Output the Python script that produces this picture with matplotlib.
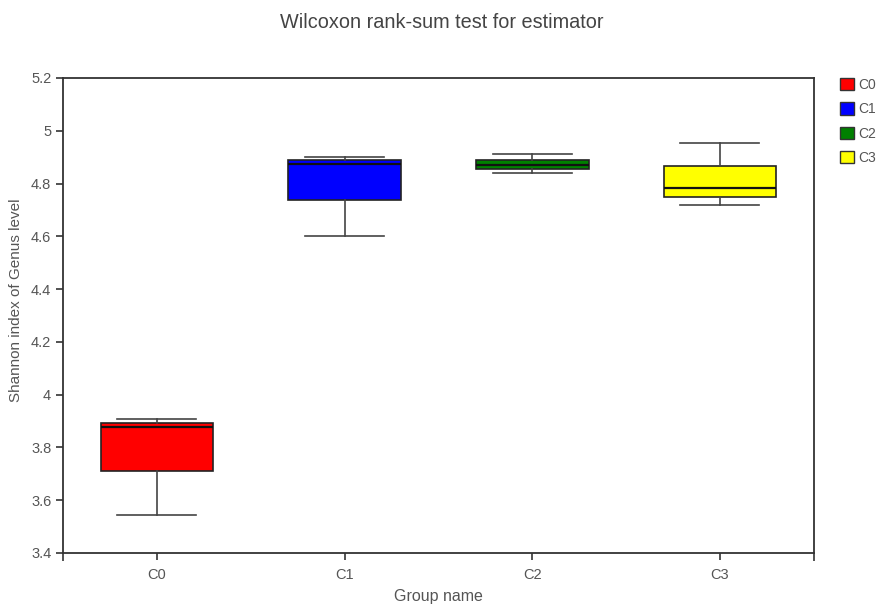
import matplotlib
matplotlib.use('Agg')
import matplotlib.pyplot as plt
from matplotlib.patches import Patch
from matplotlib.ticker import FormatStrFormatter

plt.rcParams['font.family'] = ['Liberation Sans', 'DejaVu Sans']

groups = ["C0", "C1", "C2", "C3"]
colors = ["#ff0000", "#0000ff", "#008000", "#ffff00"]
whislo = [3.544, 4.602, 4.839, 4.718]
q1 = [3.712, 4.738, 4.854, 4.749]
med = [3.878, 4.873, 4.871, 4.782]
q3 = [3.894, 4.889, 4.890, 4.868]
whishi = [3.909, 4.900, 4.911, 4.955]

txt = "#555555"
axc = "#333333"

fig = plt.figure(figsize=(8.78, 6.07), dpi=100)
ax = fig.add_axes([0.0718, 0.089, 0.855, 0.7825])

stats = []
for i, g in enumerate(groups):
    stats.append(dict(label=g, whislo=whislo[i], q1=q1[i], med=med[i],
                      q3=q3[i], whishi=whishi[i], fliers=[]))

bp = ax.bxp(stats, positions=range(len(groups)), widths=0.6, patch_artist=True,
            showfliers=False, capwidths=0.42,
            boxprops=dict(edgecolor="#222222", linewidth=1.2),
            medianprops=dict(color="#111111", linewidth=1.6),
            whiskerprops=dict(color="#444444", linewidth=1.2),
            capprops=dict(color="#444444", linewidth=1.2))
for b, c in zip(bp['boxes'], colors):
    b.set_facecolor(c)

ax.set_xlim(-0.5, 3.5)
ax.set_ylim(3.4, 5.2)
ax.set_yticks([3.4, 3.6, 3.8, 4.0, 4.2, 4.4, 4.6, 4.8, 5.0, 5.2])
ax.yaxis.set_major_formatter(FormatStrFormatter('%g'))
ax.set_xticks(range(len(groups)))
ax.set_xticklabels(groups)
ax.set_xticks([-0.5, 3.5], minor=True)
ax.tick_params(axis='x', which='minor', length=6, width=1.2, color=axc)
ax.tick_params(axis='both', which='major', length=5, width=1.2, color=axc,
               labelsize=10.5, labelcolor=txt, direction='out')
ax.tick_params(axis='x', which='major', pad=6)
for s in ax.spines.values():
    s.set_color(axc)
    s.set_linewidth(1.3)

ax.set_xlabel("Group name", fontsize=11.5, color=txt)
ax.xaxis.set_label_coords(0.5, -0.076)
ax.set_ylabel("Shannon index of Genus level", fontsize=11, color=txt)
ax.yaxis.set_label_coords(-0.053, 0.532)
fig.text(0.503, 0.963, "Wilcoxon rank-sum test for estimator", ha='center', va='center',
         fontsize=14.3, color="#444444")

handles = [Patch(facecolor=c, edgecolor="#333333", linewidth=1.0) for c in colors]
fig.legend(handles, groups, loc='upper left', bbox_to_anchor=(0.957, 0.872),
           frameon=False, fontsize=10, handlelength=1.0, handleheight=1.0,
           handletextpad=0.3, labelspacing=0.75, borderaxespad=0, borderpad=0,
           labelcolor=txt)

fig.savefig("out.png", dpi=100)
